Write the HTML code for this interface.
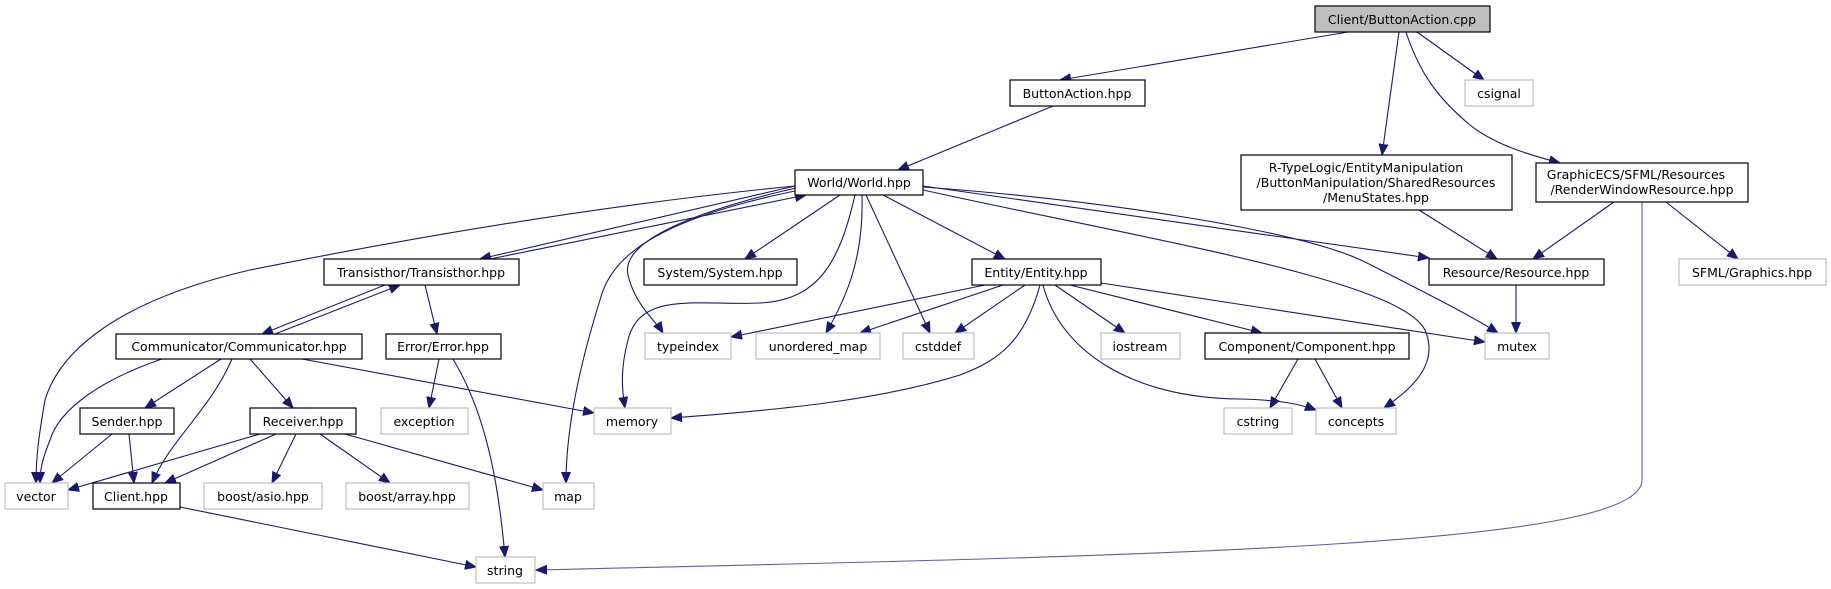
<!DOCTYPE html>
<html><head><meta charset="utf-8"><style>
html,body{margin:0;padding:0;background:#fff;}
svg{display:block}
text{font-family:"DejaVu Sans","Liberation Sans",sans-serif;font-size:12.5px;fill:#000;text-anchor:middle}
.d{fill:#fff;stroke:#000;stroke-width:1.2}
.g{fill:#fff;stroke:#bfbfbf;stroke-width:1.2}
.e{fill:none;stroke:#191970;stroke-width:1.1}
</style></head><body>
<svg width="1831" height="589" viewBox="0 0 1831 589">
<defs>
<marker id="a" markerUnits="userSpaceOnUse" markerWidth="12" markerHeight="10" refX="11" refY="5" orient="auto">
<path d="M0,0.5 L11,5 L0,9.5 z" fill="#191970" stroke="#191970"/>
</marker>
</defs>
<g marker-end="url(#a)">
<path class="e" d="M1348,32 L1060,80"/>
<path class="e" d="M1399,32 L1382,155"/>
<path class="e" d="M1417,32 L1484,80"/>
<path class="e" d="M1406,32 C1420,75 1440,100 1470,125 C1495,145 1530,155 1560,163"/>
<path class="e" d="M1053,106 L898,170"/>
<path class="e" d="M1419,210 L1497,259"/>
<path class="e" d="M1614,202 L1533,259"/>
<path class="e" d="M1666,202 L1738,259"/>
<path class="e" style="stroke:#5a5fa0" d="M1642,202 L1642,480 C1642,545 1200,555 536,570"/>
<path class="e" d="M1516,285 L1516,333"/>
<path class="e" d="M795,186 L480,259"/>
<path class="e" d="M490,259 L806,195"/>
<path class="e" d="M385,285 L262,334"/>
<path class="e" d="M275,334 L400,285"/>
<path class="e" d="M425,285 L437,334"/>
<path class="e" d="M795,186 C600,205 400,240 250,270 C120,300 60,350 45,400 C38,440 36,460 36,483"/>
<path class="e" d="M796,188 C700,210 620,240 628,275 C635,305 655,320 663,333"/>
<path class="e" d="M855,195 C840,260 820,300 760,303 C700,306 640,290 628,340 C620,370 622,390 625,408"/>
<path class="e" d="M800,190 C650,220 610,260 600,300 C575,380 566,440 566,483"/>
<path class="e" d="M840,195 L745,259"/>
<path class="e" d="M862,195 C864,260 845,300 826,333"/>
<path class="e" d="M866,195 L930,333"/>
<path class="e" d="M883,195 L1005,259"/>
<path class="e" d="M923,186 L1429,258"/>
<path class="e" d="M923,187 C1100,200 1300,230 1365,262 C1420,290 1470,315 1498,333"/>
<path class="e" d="M923,190 C1150,240 1400,280 1425,330 C1440,365 1410,390 1384,408"/>
<path class="e" d="M985,285 L731,337"/>
<path class="e" d="M1003,285 L860,333"/>
<path class="e" d="M1025,285 L955,333"/>
<path class="e" d="M1040,285 C1025,340 1000,360 960,375 C880,400 780,410 671,418"/>
<path class="e" d="M1043,285 C1060,350 1130,398 1240,399 C1280,400 1300,404 1316,410"/>
<path class="e" d="M1055,285 L1125,333"/>
<path class="e" d="M1070,285 L1262,333"/>
<path class="e" d="M1101,283 L1485,342"/>
<path class="e" d="M1298,359 L1270,408"/>
<path class="e" d="M1315,359 L1342,408"/>
<path class="e" d="M162,359 C100,380 59,410 50,440 C42,460 40,470 40,483"/>
<path class="e" d="M221,359 L145,408"/>
<path class="e" d="M232,359 C210,410 170,440 152,483"/>
<path class="e" d="M250,359 L293,408"/>
<path class="e" d="M302,359 L594,413"/>
<path class="e" d="M439,359 L429,408"/>
<path class="e" d="M453,359 C490,420 500,500 505,557"/>
<path class="e" d="M112,434 L52,483"/>
<path class="e" d="M129,434 L134,483"/>
<path class="e" d="M260,434 L68,490"/>
<path class="e" d="M276,434 L165,483"/>
<path class="e" d="M296,434 L272,483"/>
<path class="e" d="M320,434 L390,483"/>
<path class="e" d="M345,434 L543,490"/>
<path class="e" d="M180,507 L476,567"/>
</g>

<rect x="1315" y="6" width="175" height="26" fill="#bfbfbf" stroke="#000" stroke-width="1.2"/><text x="1402" y="24">Client/ButtonAction.cpp</text>
<rect class="d" x="1010" y="80" width="135" height="26"/><text x="1077" y="98">ButtonAction.hpp</text>
<rect class="g" x="1465" y="80" width="68" height="26"/><text x="1499" y="98">csignal</text>
<rect class="d" x="1241" y="155" width="271" height="55"/><text x="1376" y="172"><tspan x="1366">R-TypeLogic/EntityManipulation</tspan><tspan x="1376" dy="15">/ButtonManipulation/SharedResources</tspan><tspan x="1376" dy="15">/MenuStates.hpp</tspan></text>
<rect class="d" x="1536" y="163" width="212" height="39"/><text x="1642" y="179"><tspan x="1636">GraphicECS/SFML/Resources</tspan><tspan x="1642" dy="15">/RenderWindowResource.hpp</tspan></text>
<rect class="d" x="795" y="170" width="128" height="25"/><text x="859" y="187">World/World.hpp</text>
<rect class="d" x="324" y="259" width="195" height="26"/><text x="421" y="277">Transisthor/Transisthor.hpp</text>
<rect class="d" x="644" y="259" width="153" height="26"/><text x="720" y="277">System/System.hpp</text>
<rect class="d" x="972" y="259" width="129" height="26"/><text x="1036" y="277">Entity/Entity.hpp</text>
<rect class="d" x="1429" y="259" width="175" height="26"/><text x="1516" y="277">Resource/Resource.hpp</text>
<rect class="g" x="1679" y="259" width="147" height="26"/><text x="1752" y="277">SFML/Graphics.hpp</text>
<rect class="d" x="116" y="334" width="246" height="25"/><text x="239" y="351">Communicator/Communicator.hpp</text>
<rect class="d" x="386" y="334" width="115" height="25"/><text x="443" y="351">Error/Error.hpp</text>
<rect class="g" x="645" y="333" width="86" height="26"/><text x="688" y="351">typeindex</text>
<rect class="g" x="756" y="333" width="124" height="26"/><text x="818" y="351">unordered_map</text>
<rect class="g" x="903" y="333" width="71" height="26"/><text x="938" y="351">cstddef</text>
<rect class="g" x="1101" y="333" width="79" height="26"/><text x="1140" y="351">iostream</text>
<rect class="d" x="1205" y="333" width="204" height="26"/><text x="1307" y="351">Component/Component.hpp</text>
<rect class="g" x="1485" y="333" width="64" height="26"/><text x="1517" y="351">mutex</text>
<rect class="d" x="80" y="408" width="94" height="26"/><text x="127" y="426">Sender.hpp</text>
<rect class="d" x="250" y="408" width="106" height="26"/><text x="303" y="426">Receiver.hpp</text>
<rect class="g" x="381" y="408" width="87" height="26"/><text x="424" y="426">exception</text>
<rect class="g" x="594" y="408" width="77" height="26"/><text x="632" y="426">memory</text>
<rect class="g" x="1224" y="408" width="68" height="26"/><text x="1258" y="426">cstring</text>
<rect class="g" x="1316" y="408" width="80" height="26"/><text x="1356" y="426">concepts</text>
<rect class="g" x="5" y="483" width="63" height="26"/><text x="36" y="501">vector</text>
<rect class="d" x="93" y="483" width="87" height="26"/><text x="136" y="501">Client.hpp</text>
<rect class="g" x="204" y="483" width="118" height="26"/><text x="263" y="501">boost/asio.hpp</text>
<rect class="g" x="346" y="483" width="123" height="26"/><text x="407" y="501">boost/array.hpp</text>
<rect class="g" x="543" y="483" width="51" height="26"/><text x="568" y="501">map</text>
<rect class="g" x="476" y="557" width="59" height="26"/><text x="505" y="575">string</text>
</svg>
</body></html>
